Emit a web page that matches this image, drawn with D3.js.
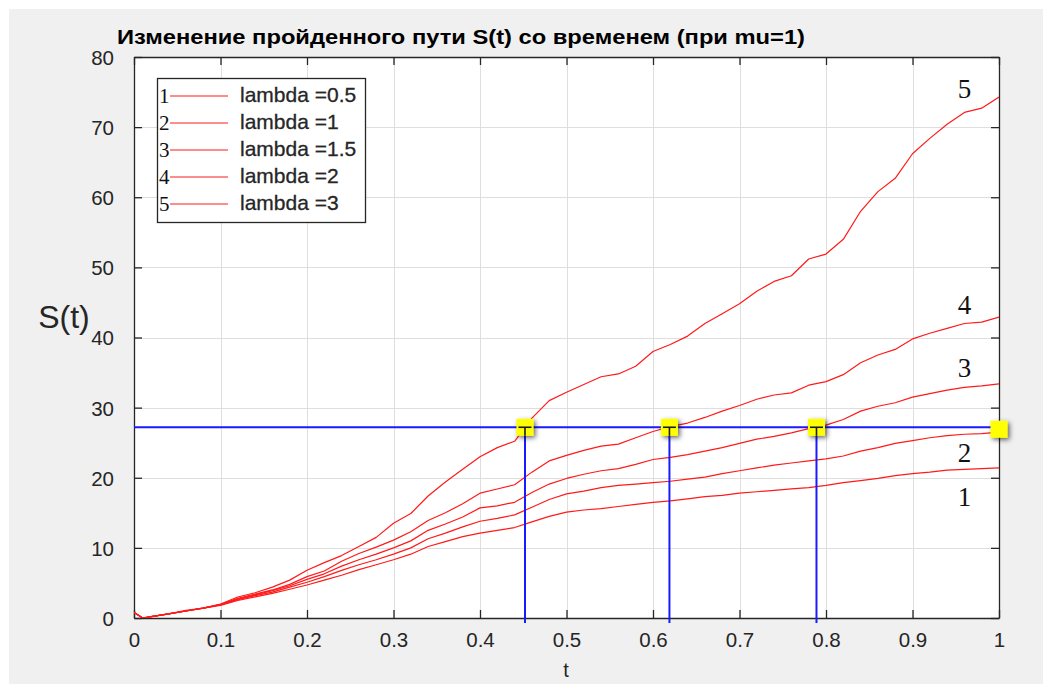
<!DOCTYPE html>
<html><head><meta charset="utf-8">
<script src="https://cdn.jsdelivr.net/npm/d3@7"></script>
<style>body{margin:0;background:#fff}svg{display:block}</style>
</head><body>
<svg id="c" width="1043" height="684"></svg>
<script>
// ---------- data ----------
const tValues = [0,0.01,0.02,0.04,0.06,0.08,0.10,0.12,0.14,0.16,0.18,0.20,0.22,0.24,0.26,0.28,0.30,0.32,0.34,0.36,0.38,0.40,0.42,0.44,0.46,0.48,0.50,0.52,0.54,0.56,0.58,0.60,0.62,0.64,0.66,0.68,0.70,0.72,0.74,0.76,0.78,0.80,0.82,0.84,0.86,0.88,0.90,0.92,0.94,0.96,0.98,1.00];
const sLambda05 = [0.8,0,0.2,0.6,1.0,1.4,1.8,2.5,3.0,3.5,4.1,4.7,5.4,6.1,6.9,7.6,8.3,9.1,10.2,10.9,11.6,12.1,12.5,12.9,13.7,14.5,15.1,15.4,15.6,15.9,16.2,16.5,16.7,17.0,17.3,17.5,17.8,18.0,18.2,18.4,18.6,18.9,19.3,19.6,19.9,20.3,20.6,20.8,21.1,21.2,21.3,21.4];
const sLambda1  = [0.8,0,0.2,0.6,1.0,1.4,1.9,2.6,3.2,3.7,4.4,5.1,5.9,6.8,7.6,8.3,9.1,10.0,11.3,12.1,13.0,13.8,14.2,14.7,15.8,16.9,17.7,18.1,18.6,18.9,19.1,19.3,19.5,19.8,20.1,20.6,21.0,21.4,21.8,22.1,22.4,22.7,23.1,23.8,24.3,24.9,25.3,25.7,26.0,26.2,26.3,26.5];
const sLambda15 = [0.8,0,0.2,0.6,1.0,1.4,1.9,2.7,3.3,3.9,4.6,5.5,6.3,7.4,8.3,9.1,10.0,11.0,12.5,13.4,14.4,15.7,16.0,16.5,17.9,19.1,19.9,20.5,21.0,21.3,21.9,22.6,22.9,23.3,23.8,24.3,24.9,25.5,25.9,26.4,27.0,27.5,28.3,29.5,30.2,30.7,31.5,32.0,32.5,32.9,33.1,33.4];
const sLambda2  = [0.8,0,0.2,0.6,1.0,1.4,1.9,2.8,3.4,4.0,4.8,5.9,6.7,8.1,9.2,10.1,11.1,12.3,13.9,15.0,16.3,17.8,18.4,19.0,20.8,22.4,23.2,23.9,24.5,24.8,25.7,26.6,27.3,27.8,28.6,29.5,30.3,31.2,31.8,32.1,33.2,33.7,34.7,36.4,37.5,38.3,39.8,40.6,41.3,42.0,42.2,42.9];
const sLambda3  = [0.8,0,0.2,0.6,1.1,1.4,2.0,3.0,3.6,4.4,5.4,6.8,7.9,8.9,10.2,11.5,13.5,14.9,17.4,19.4,21.2,23.0,24.3,25.2,28.5,31.0,32.2,33.3,34.4,34.8,35.9,38.0,39.0,40.2,42.0,43.4,44.8,46.6,48.0,48.8,51.2,51.9,54.0,58.0,60.8,62.7,66.2,68.4,70.4,72.1,72.7,74.3];
const seriesNames = ["1","2","3","4","5"];
const legendLabels = ["lambda =0.5","lambda =1","lambda =1.5","lambda =2","lambda =3"];
const curveLabelS = [16.0, 22.2, 34.3, 43.3, 74.2];   // data-space baselines of curve numbers
const curveLabelT = 0.96;
const levelS = 27.2;                          // horizontal reference level
const crossT = [0.452, 0.619, 0.789, 1.0];    // where curves reach the level
const xTicks = [0,0.1,0.2,0.3,0.4,0.5,0.6,0.7,0.8,0.9,1];
const xTickLabels = ["0","0.1","0.2","0.3","0.4","0.5","0.6","0.7","0.8","0.9","1"];
const yTicks = [0,10,20,30,40,50,60,70,80];
const titleText = "Изменение пройденного пути S(t) со временем (при mu=1)";
const xLabel = "t", yLabel = "S(t)";

// ---------- drawing ----------
const series = [sLambda05, sLambda1, sLambda15, sLambda2, sLambda3];
const svg = d3.select("#c");
const W = 1043, H = 684;
const L = 134, R = 999, T = 57, B = 618;
const axisCol = "#262626";
const sans = "'Liberation Sans', Arial, Helvetica, sans-serif";
const serif = "'Liberation Serif', 'Times New Roman', serif";

// background
svg.append("rect").attr("width", W).attr("height", H).attr("fill", "#ffffff");
svg.append("rect").attr("x", 9).attr("y", 9).attr("width", W - 9).attr("height", H - 9).attr("fill", "#f0f0f0");

const defs = svg.append("defs");
const f = defs.append("filter").attr("id", "sh").attr("x", "-50%").attr("y", "-50%").attr("width", "200%").attr("height", "200%");
f.append("feDropShadow").attr("dx", 2).attr("dy", 2).attr("stdDeviation", 2.5).attr("flood-color", "#000").attr("flood-opacity", 0.6);
defs.append("clipPath").attr("id", "clip").append("rect").attr("x", L).attr("y", T).attr("width", R - L).attr("height", B - T);

const x = d3.scaleLinear().domain([0, 1]).range([L, R]);
const y = d3.scaleLinear().domain([0, 80]).range([B, T]);

svg.append("rect").attr("x", L).attr("y", T).attr("width", R - L).attr("height", B - T).attr("fill", "#fff");

// grid
const grid = svg.append("g").attr("stroke", "#dedede").attr("stroke-width", 1);
grid.selectAll("line.gx").data(xTicks.slice(1, -1)).join("line")
  .attr("x1", d => Math.round(x(d)) + 0.5).attr("x2", d => Math.round(x(d)) + 0.5)
  .attr("y1", T).attr("y2", B);
grid.selectAll("line.gy").data(yTicks.slice(1, -1)).join("line")
  .attr("y1", d => Math.round(y(d)) + 0.5).attr("y2", d => Math.round(y(d)) + 0.5)
  .attr("x1", L).attr("x2", R);

// axes (bottom/left with labels, top/right ticks only) - inward ticks
const fmtX = (d, i) => xTickLabels[i];
const gB = svg.append("g").attr("transform", `translate(0,${B})`)
  .call(d3.axisBottom(x).tickValues(xTicks).tickFormat(fmtX).tickSizeInner(-8).tickSizeOuter(0).tickPadding(22));
const gL = svg.append("g").attr("transform", `translate(${L},0)`)
  .call(d3.axisLeft(y).tickValues(yTicks).tickSizeInner(-8).tickSizeOuter(0).tickPadding(20));
const gT = svg.append("g").attr("transform", `translate(0,${T})`)
  .call(d3.axisTop(x).tickValues(xTicks).tickFormat("").tickSizeInner(-8).tickSizeOuter(0));
const gR = svg.append("g").attr("transform", `translate(${R},0)`)
  .call(d3.axisRight(y).tickValues(yTicks).tickFormat("").tickSizeInner(-8).tickSizeOuter(0));
[gB, gL, gT, gR].forEach(g => {
  g.selectAll("path").attr("stroke", axisCol).attr("stroke-width", 1.3);
  g.selectAll("line").attr("stroke", axisCol).attr("stroke-width", 1.3);
  g.selectAll("text").attr("fill", axisCol).attr("font-family", sans).attr("font-size", 20.5);
});
gB.selectAll("text").attr("dy", "0.35em");
gL.selectAll("text").attr("dy", "0.36em");

// red curves
const line = d3.line().x((d, i) => x(tValues[i])).y(d => y(d));
svg.append("g").attr("clip-path", "url(#clip)")
  .selectAll("path").data(series).join("path")
  .attr("d", line).attr("fill", "none").attr("stroke", "#ff1a1a").attr("stroke-width", 1.2)
  .attr("stroke-linejoin", "round");

// blue reference lines
const blue = svg.append("g").attr("stroke", "#1a1aff").attr("stroke-width", 2);
blue.append("line").attr("x1", x(0)).attr("x2", x(1)).attr("y1", y(levelS)).attr("y2", y(levelS));
blue.selectAll("line.v").data(crossT.slice(0, -1)).join("line")
  .attr("x1", d => x(d)).attr("x2", d => x(d)).attr("y1", y(levelS)).attr("y2", y(0) + 5);

// yellow squares
const sq = 17;
const mk = svg.append("g");
mk.selectAll("rect").data(crossT).join("rect")
  .attr("x", d => x(d) - sq / 2).attr("y", (d, i) => y(levelS) - sq / 2 + (i === crossT.length - 1 ? 2 : 0))
  .attr("width", sq).attr("height", sq).attr("fill", "#ffff00").attr("filter", "url(#sh)");
const tk = mk.append("g").attr("stroke", "#1a1a1a").attr("stroke-width", 1.6);
crossT.slice(0, -1).forEach(d => {
  tk.append("line").attr("x1", x(d) - sq / 2 + 2).attr("x2", x(d) + sq / 2 - 2).attr("y1", y(levelS)).attr("y2", y(levelS));
  tk.append("line").attr("x1", x(d)).attr("x2", x(d)).attr("y1", y(levelS)).attr("y2", y(levelS) + sq / 2);
});

// curve number labels
svg.append("g").selectAll("text").data(seriesNames).join("text")
  .attr("x", x(curveLabelT)).attr("y", (d, i) => y(curveLabelS[i]))
  .attr("text-anchor", "middle").attr("font-family", serif).attr("font-size", 27).attr("fill", "#111")
  .text(d => d);

// legend
const lg = svg.append("g");
lg.append("rect").attr("x", 157.5).attr("y", 78.5).attr("width", 208).attr("height", 144)
  .attr("fill", "#fff").attr("stroke", axisCol).attr("stroke-width", 1.3);
const rows = lg.selectAll("g.row").data(legendLabels).join("g").attr("transform", (d, i) => `translate(0,${96 + i * 27})`);
rows.append("line").attr("x1", 170).attr("x2", 228).attr("y1", 0).attr("y2", 0).attr("stroke", "#ff1a1a").attr("stroke-width", 1.2);
rows.append("text").attr("x", 159).attr("y", 7).attr("font-family", serif).attr("font-size", 21).attr("fill", "#111").text((d, i) => seriesNames[i]);
rows.append("text").attr("x", 240).attr("y", 6).attr("font-family", sans).attr("font-size", 21).attr("fill", axisCol)
  .attr("stroke", axisCol).attr("stroke-width", 0.3).text(d => d);

// title
const tt = svg.append("text").attr("x", 117).attr("y", 44).attr("font-family", sans).attr("font-weight", "bold")
  .attr("font-size", 21).attr("fill", "#000").text(titleText);
tt.attr("textLength", 688).attr("lengthAdjust", "spacingAndGlyphs");

// axis labels
svg.append("text").attr("x", 64).attr("y", 328).attr("text-anchor", "middle").attr("font-family", sans)
  .attr("font-size", 32).attr("fill", axisCol).text(yLabel);
svg.append("text").attr("x", 566).attr("y", 677).attr("text-anchor", "middle").attr("font-family", sans)
  .attr("font-size", 20).attr("fill", axisCol).text(xLabel);
</script>
</body></html>
